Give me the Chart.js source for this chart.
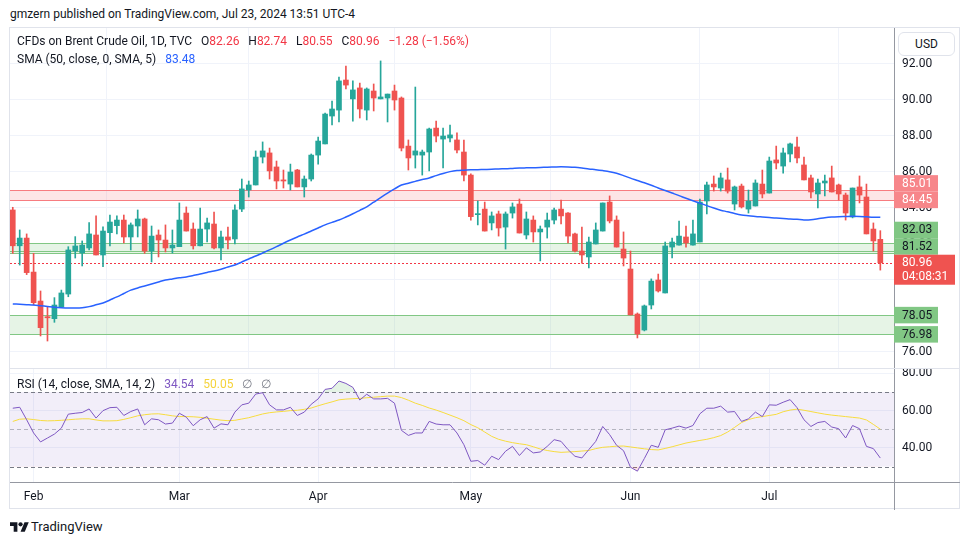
<!DOCTYPE html>
<html>
<head>
<meta charset="utf-8">
<script src="https://cdn.jsdelivr.net/npm/chart.js@4.4.1/dist/chart.umd.min.js"></script>
<style>
  body { margin:0; background:#fff; font-family: Roboto, "Noto Sans", sans-serif; color:#131722; width:970px; height:545px; overflow:hidden; position:relative; }
  .abs { position:absolute; white-space:nowrap; }
  #pub { left:10px; top:7px; font-size:12px; }
  #frame { left:9px; top:27px; width:951px; height:482px; border:1px solid #E0E3EB; box-sizing:border-box; }
  #sep { left:10px; top:368px; width:950px; height:1px; background:#E0E3EB; }
  #mainWrap { left:10px; top:28px; }
  #rsiWrap { left:10px; top:369px; }
  .leg { font-size:12px; color:#131722; }
  #leg1 { left:17px; top:34px; }
  #leg2 { left:17px; top:52px; }
  #leg3 { left:17px; top:377px; }
  .red { color:#F23645; }
  .blue { color:#2962FF; }
  .purple { color:#7E57C2; }
  .yellow { color:#F5D33B; }
  .gray { color:#787B86; }
  #usd { left:898px; top:32px; width:57px; height:24px; border:1px solid #E0E3EB; border-radius:6px; background:#fff; font-size:12px; line-height:22px; text-align:center; box-sizing:border-box; }
  #logo { left:10px; top:520px; }
  #logoText { left:31px; top:519px; font-size:13px; color:#131722; }
</style>
</head>
<body>
<div class="abs" id="pub">gmzern published on TradingView.com, Jul 23, 2024 13:51 UTC-4</div>
<div class="abs" id="frame"></div>
<div class="abs" id="mainWrap"><canvas id="mainChart" width="950" height="340"></canvas></div>
<div class="abs" id="sep"></div>
<div class="abs" id="rsiWrap"><canvas id="rsiChart" width="950" height="141"></canvas></div>
<div class="abs leg" id="leg1">CFDs on Brent Crude Oil, 1D, TVC&nbsp;&nbsp; O<span class="red">82.26</span>&nbsp;&nbsp; H<span class="red">82.74</span>&nbsp;&nbsp; L<span class="red">80.55</span>&nbsp;&nbsp; C<span class="red">80.96</span>&nbsp;&nbsp; <span class="red">−1.28 (−1.56%)</span></div>
<div class="abs leg" id="leg2">SMA (50, close, 0, SMA, 5)&nbsp;&nbsp; <span class="blue">83.48</span></div>
<div class="abs leg" id="leg3">RSI (14, close, SMA, 14, 2)&nbsp;&nbsp; <span class="purple">34.54</span>&nbsp;&nbsp; <span class="yellow">50.05</span>&nbsp;&nbsp; <span class="gray">∅</span>&nbsp;&nbsp; <span class="gray">∅</span></div>
<div class="abs" id="usd">USD</div>
<svg class="abs" id="logo" width="19" height="15" viewBox="0 0 36 28">
  <path d="M14 22H7V11H0V4h14v18z" fill="#131722"/>
  <circle cx="20" cy="8" r="4" fill="#131722"/>
  <path d="M28 22h-8l7.5-18h8L28 22z" fill="#131722"/>
</svg>
<div class="abs" id="logoText">TradingView</div>

<script>
// daily candles, Jan 29 .. Jul 23 2024 (index = trading day)
const opens = [83.89,81.90,82.33,80.44,78.83,77.96,77.85,78.50,79.22,81.61,81.50,81.78,82.50,81.39,82.63,83.02,83.33,82.39,83.00,83.39,
  81.61,82.50,82.22,81.78,81.85,83.72,82.83,81.90,82.83,83.11,81.78,82.39,82.28,83.94,85.00,85.28,86.83,87.06,86.28,85.56,
  85.33,86.11,85.17,85.61,86.94,87.56,89.11,89.44,91.11,90.06,90.67,89.44,90.50,90.06,90.11,90.50,90.11,87.44,86.94,86.94,
  87.11,88.44,87.83,87.89,87.78,87.11,85.83,83.63,83.94,83.17,83.67,82.94,83.72,84.22,82.50,83.33,82.67,82.94,83.33,83.94,
  83.72,82.56,81.61,81.28,82.00,82.72,84.33,83.33,81.72,80.61,78.11,77.22,78.61,80.00,79.28,81.83,81.94,82.39,81.94,82.11,
  84.39,85.33,85.11,85.56,84.22,85.22,83.94,84.11,85.33,84.83,86.67,86.33,87.00,87.39,86.39,85.67,84.78,85.39,85.67,85.28,
  84.72,83.50,85.17,84.61,82.83,82.26];
const highs = [84.04,82.78,82.56,81.48,79.39,78.52,79.02,79.44,81.85,82.41,82.17,83.19,83.56,82.96,83.61,83.56,83.61,83.17,83.89,83.44,
  83.00,82.78,83.06,82.78,84.28,84.06,83.17,84.00,83.44,83.78,82.72,82.94,84.17,85.61,85.50,87.17,87.67,87.33,86.61,86.11,
  86.44,86.15,85.78,87.00,87.94,89.28,89.94,91.28,91.89,91.06,90.94,90.67,90.89,92.17,90.33,90.83,90.17,87.78,90.72,87.22,
  88.44,88.83,88.44,88.61,88.17,87.78,85.90,84.39,84.33,83.78,83.83,83.78,84.28,84.50,83.78,83.56,83.00,83.72,84.00,84.44,
  83.75,82.60,82.94,82.39,83.17,84.28,84.67,83.56,82.67,81.61,78.17,78.61,80.06,80.33,82.11,82.33,83.28,83.00,83.33,84.50,
  85.44,85.78,85.94,86.22,85.22,85.33,85.00,85.56,86.11,86.83,87.44,87.33,87.61,87.94,86.83,85.83,85.61,85.83,86.33,85.33,
  84.83,85.11,85.78,85.33,83.17,82.74];
const lows = [81.48,80.83,80.30,78.61,76.89,76.61,77.65,78.50,79.07,81.22,80.78,81.67,81.39,80.74,81.89,82.56,82.06,81.67,82.39,81.48,
  81.00,81.28,81.56,81.50,81.85,82.72,81.72,81.90,82.11,81.72,81.11,81.72,82.00,83.80,84.61,85.28,86.50,85.61,85.06,85.11,
  85.00,85.17,84.61,85.50,86.44,87.56,88.61,88.78,90.61,88.83,89.00,88.89,89.39,90.06,88.78,89.44,87.17,86.11,86.22,85.83,
  86.06,87.67,86.22,87.67,87.06,85.50,83.33,83.06,82.72,82.78,82.44,81.72,83.44,82.61,82.28,82.11,81.06,82.33,83.11,83.11,
  82.06,81.56,80.94,80.67,82.00,82.72,83.17,81.83,80.78,78.06,76.78,77.17,78.39,79.33,79.28,81.22,81.94,81.83,81.94,82.11,
  83.67,84.94,84.94,84.83,83.89,84.00,83.72,84.11,84.56,84.83,86.17,85.94,86.56,86.50,85.56,84.56,84.00,84.67,84.89,84.44,
  83.33,83.45,84.28,82.56,81.61,80.55];
const closes = [81.90,82.33,80.41,78.74,77.35,77.90,78.61,79.28,81.67,81.89,81.94,82.56,81.39,82.72,83.22,83.33,82.39,83.06,83.39,81.61,
  82.44,82.22,81.78,81.94,83.33,82.72,81.90,82.83,83.17,81.78,82.39,82.22,83.89,85.06,85.28,86.83,87.17,86.06,85.50,85.50,
  86.00,85.17,85.61,86.94,87.72,89.22,89.50,91.06,90.83,90.56,89.50,90.61,90.11,90.17,90.33,90.00,87.33,86.78,87.17,87.11,
  88.39,88.00,88.00,88.06,87.22,85.83,83.52,83.67,82.72,83.56,82.89,83.67,84.06,82.61,83.39,82.67,82.83,83.33,83.89,83.56,
  82.44,81.61,81.39,82.11,82.78,84.28,83.28,81.83,81.22,78.06,77.00,78.56,79.94,79.39,81.89,82.11,82.44,82.06,82.56,84.33,
  85.28,85.17,85.67,84.94,85.17,84.06,84.39,85.39,84.78,86.61,86.50,87.06,87.56,86.78,85.56,84.89,85.39,85.50,84.89,84.78,
  83.72,85.11,84.72,82.56,82.17,80.96];
const sma50 = [78.67,78.65,78.63,78.61,78.57,78.53,78.49,78.46,78.44,78.44,78.46,78.52,78.62,78.72,78.89,79.06,79.25,79.44,79.56,79.67,
  79.78,79.89,80.00,80.06,80.12,80.17,80.25,80.33,80.42,80.50,80.60,80.72,80.83,81.00,81.17,81.33,81.50,81.67,81.85,82.04,
  82.22,82.39,82.55,82.72,82.89,83.06,83.20,83.33,83.50,83.68,83.87,84.06,84.32,84.58,84.83,85.06,85.28,85.38,85.48,85.58,
  85.67,85.80,85.92,86.02,86.08,86.10,86.12,86.13,86.14,86.15,86.17,86.18,86.20,86.22,86.23,86.24,86.25,86.27,86.28,86.29,
  86.28,86.26,86.22,86.17,86.13,86.08,86.02,85.93,85.80,85.66,85.53,85.40,85.26,85.11,84.97,84.83,84.69,84.54,84.40,84.27,
  84.13,84.00,83.88,83.79,83.69,83.61,83.57,83.53,83.50,83.47,83.44,83.42,83.39,83.37,83.34,83.35,83.40,83.46,83.50,83.52,
  83.53,83.54,83.53,83.51,83.49,83.48];
const rsi = [61.3,61.8,55.1,48.0,43.2,45.3,47.4,50.6,58.1,58.6,59.0,60.9,56.0,60.0,61.6,61.8,57.4,59.5,60.9,52.4,
  55.6,55.1,52.8,53.3,58.6,56.5,51.9,55.1,56.8,50.6,52.9,52.4,59.2,63.1,64.0,68.9,69.6,63.1,60.4,60.4,
  61.8,57.4,59.2,63.4,66.3,71.4,72.0,75.9,74.6,72.5,65.7,68.8,66.3,66.3,66.6,64.0,49.4,46.7,48.0,48.0,
  54.2,52.8,52.4,52.4,48.0,41.7,32.8,33.2,30.7,35.5,33.7,38.2,40.8,35.9,40.0,37.3,37.8,40.8,44.4,43.5,
  39.1,35.5,34.6,39.1,43.5,51.5,47.1,41.4,38.5,29.6,27.5,34.3,41.4,40.3,49.7,50.6,51.7,50.6,52.0,58.3,
  61.3,61.3,62.4,59.2,59.5,54.2,55.6,59.2,56.8,63.1,62.9,64.5,65.9,61.6,55.1,51.5,53.6,54.2,51.2,50.3,
  45.3,52.0,50.3,40.8,39.6,34.54];
const rsiMa = [54.2,55.4,55.6,55.2,54.7,54.5,54.6,54.8,55.1,55.4,55.6,55.6,55.0,54.5,54.5,54.6,55.3,56.2,57.2,57.8,
  58.2,58.3,57.8,57.2,56.8,56.8,56.7,56.4,55.9,55.4,54.9,54.6,54.8,55.5,56.2,57.2,58.2,58.9,59.3,59.6,
  60.0,60.2,60.7,61.4,62.6,63.7,64.7,65.8,66.2,66.4,66.6,66.9,67.2,67.5,67.8,67.8,67.0,65.6,64.0,62.8,
  61.4,60.3,59.0,57.6,56.2,54.6,52.5,50.8,48.5,46.2,44.6,43.6,42.8,42.2,41.7,40.6,39.4,38.6,38.0,37.6,
  37.8,38.0,38.3,38.6,39.6,40.3,40.6,40.9,41.0,40.5,40.0,39.5,39.1,38.9,39.7,40.6,41.6,42.6,43.3,44.0,
  44.6,45.5,46.6,48.5,51.0,53.6,55.2,56.2,56.8,57.4,58.0,59.4,60.3,60.8,60.2,59.5,58.8,58.1,57.6,57.2,
  56.8,56.4,56.0,55.0,52.6,50.05];

const monthLabels = ['Feb', 'Mar', 'Apr', 'May', 'Jun', 'Jul'];
const monthIndex = [3, 24, 44, 66, 89, 109];
const priceTicks = [76, 78, 80, 82, 84, 86, 88, 90, 92];
const rsiTicks = [40, 60, 80];
// support / resistance zones: [low, high, kind]
const zones = [[84.45, 85.01, 'red'], [81.52, 82.03, 'green'], [76.98, 78.05, 'green']];
const extraLines = [[81.63, 'green']];
const badges = [[85.01, 'red'], [84.45, 'red'], [82.03, 'green'], [81.52, 'green'], [78.05, 'green'], [76.98, 'green']];
const countdown = '04:08:31';
const rsiLevels = [70, 50, 30];

const UP = '#26A69A', DOWN = '#EF5350';
const AXIS = '#9598A1', GRID = '#F0F3FA';
const zoneStyle = {
    red: { fill: 'rgba(247,124,128,0.2)', line: '#F77C80', badge: '#F7868A', text: '#ffffff' },
    green: { fill: 'rgba(129,199,132,0.2)', line: '#81C784', badge: '#81C784', text: '#131722' }
};
const tickFont = { family: 'Roboto', size: 12 };

const idx = closes.map((c, i) => i);
const candleColors = idx.map(i => closes[i] >= opens[i] ? UP : DOWN);
const xMin = -0.4, xMax = 126.97;

function fixedY(width) {
    return function (scale) {
        scale.width = width;
        scale.paddingTop = 0;
        scale.paddingBottom = 0;
    };
}
function fixedX(height) {
    return function (scale) {
        scale.height = height;
        scale.paddingLeft = 0;
        scale.paddingRight = 0;
    };
}

const zonePlugin = {
    id: 'zones',
    beforeDatasetsDraw(chart) {
        const { ctx, chartArea: a, scales: { y } } = chart;
        ctx.save();
        zones.forEach(z => {
            const st = zoneStyle[z[2]];
            const yHi = Math.round(y.getPixelForValue(z[1])) + 0.5;
            const yLo = Math.round(y.getPixelForValue(z[0])) + 0.5;
            ctx.fillStyle = st.fill;
            ctx.fillRect(a.left, yHi, a.right - a.left, yLo - yHi);
            ctx.strokeStyle = st.line;
            ctx.lineWidth = 1;
            [yHi, yLo].forEach(py => {
                ctx.beginPath(); ctx.moveTo(a.left, py); ctx.lineTo(a.right, py); ctx.stroke();
            });
        });
        extraLines.forEach(l => {
            const py = Math.round(y.getPixelForValue(l[0])) + 0.5;
            ctx.strokeStyle = zoneStyle[l[1]].line;
            ctx.beginPath(); ctx.moveTo(a.left, py); ctx.lineTo(a.right, py); ctx.stroke();
        });
        // last price line
        const lp = Math.round(y.getPixelForValue(closes[closes.length - 1])) + 0.5;
        ctx.strokeStyle = '#F23645';
        ctx.lineWidth = 1;
        ctx.setLineDash([2, 2]);
        ctx.beginPath(); ctx.moveTo(a.left, lp); ctx.lineTo(a.right, lp); ctx.stroke();
        ctx.restore();
    },
    afterDraw(chart) {
        const { ctx, chartArea: a, scales: { y } } = chart;
        const last = closes[closes.length - 1];
        const lastY = y.getPixelForValue(last);
        const H = 16.5;
        const top = lastY - 8, bottom = top + 30;
        const items = badges.map(b => ({ v: b[0], kind: b[1], y: y.getPixelForValue(b[0]) }));
        // push labels apart like the price scale does
        let limit = top;
        items.filter(b => b.v > last).sort((p, q) => p.v - q.v).forEach(b => {
            b.cy = Math.min(b.y, limit - H / 2); limit = b.cy - H / 2;
        });
        limit = bottom;
        items.filter(b => b.v < last).sort((p, q) => q.v - p.v).forEach(b => {
            b.cy = Math.max(b.y, limit + H / 2); limit = b.cy + H / 2;
        });
        ctx.save();
        ctx.font = '12px Roboto';
        ctx.textBaseline = 'middle';
        ctx.textAlign = 'left';
        items.forEach(b => {
            const st = zoneStyle[b.kind];
            ctx.fillStyle = st.badge;
            ctx.fillRect(a.right, b.cy - H / 2, 44, H);
            ctx.fillStyle = st.text;
            ctx.fillText(b.v.toFixed(2), a.right + 8, b.cy + 0.5);
        });
        ctx.fillStyle = '#EF5350';
        ctx.fillRect(a.right, top, 61, 30);
        ctx.fillStyle = '#ffffff';
        ctx.fillText(last.toFixed(2), a.right + 8, lastY + 0.5);
        ctx.fillText(countdown, a.right + 8, lastY + 14.5);
        ctx.restore();
    }
};

new Chart(document.getElementById('mainChart'), {
    type: 'bar',
    data: {
        datasets: [
            {
                type: 'line',
                data: idx.map(i => ({ x: i, y: sma50[i] })),
                borderColor: '#2962FF',
                borderWidth: 1.5,
                pointRadius: 0,
                tension: 0.3,
                order: 0
            },
            {
                data: idx.map(i => ({ x: i, y: [lows[i], highs[i]] })),
                backgroundColor: candleColors,
                barThickness: 1,
                grouped: false,
                order: 2
            },
            {
                data: idx.map(i => ({ x: i, y: [opens[i], closes[i]] })),
                backgroundColor: candleColors,
                barThickness: 5,
                minBarLength: 1,
                grouped: false,
                order: 1
            }
        ]
    },
    options: {
        responsive: false,
        animation: false,
        layout: { padding: 0 },
        plugins: { legend: { display: false }, tooltip: { enabled: false } },
        scales: {
            x: {
                type: 'linear', min: xMin, max: xMax, offset: false,
                afterBuildTicks: s => { s.ticks = monthIndex.map(v => ({ value: v })); },
                ticks: { display: false },
                grid: { color: GRID, drawTicks: false },
                border: { display: false },
                afterFit: fixedX(0)
            },
            y: {
                position: 'right', min: 75.111, max: 94,
                afterBuildTicks: s => { s.ticks = priceTicks.map(v => ({ value: v })); },
                ticks: { font: tickFont, color: '#131722', padding: 8, callback: v => v.toFixed(2) },
                grid: { color: GRID, drawTicks: false },
                border: { display: true, color: AXIS },
                afterFit: fixedY(66)
            }
        }
    },
    plugins: [zonePlugin]
});

const rsiPlugin = {
    id: 'rsiBand',
    beforeDatasetsDraw(chart) {
        const { ctx, chartArea: a, scales: { y } } = chart;
        const yTop = y.getPixelForValue(rsiLevels[0]), yBot = y.getPixelForValue(rsiLevels[2]);
        ctx.save();
        ctx.fillStyle = 'rgba(126,87,194,0.1)';
        ctx.fillRect(a.left, yTop, a.right - a.left, yBot - yTop);
        ctx.setLineDash([4, 3]);
        ctx.lineWidth = 1;
        rsiLevels.forEach((lv, k) => {
            const py = Math.round(y.getPixelForValue(lv)) + 0.5;
            ctx.strokeStyle = k === 1 ? 'rgba(120,123,134,0.5)' : '#787B86';
            ctx.beginPath(); ctx.moveTo(a.left, py); ctx.lineTo(a.right, py); ctx.stroke();
        });
        ctx.restore();
    },
    afterDraw(chart) {
        const { ctx, chartArea: a } = chart;
        ctx.save();
        ctx.strokeStyle = AXIS;
        ctx.lineWidth = 1;
        ctx.beginPath();
        ctx.moveTo(a.right, a.bottom + 0.5); ctx.lineTo(chart.width, a.bottom + 0.5);
        ctx.moveTo(a.right + 0.5, a.bottom); ctx.lineTo(a.right + 0.5, chart.height);
        ctx.stroke();
        ctx.restore();
    }
};

new Chart(document.getElementById('rsiChart'), {
    type: 'line',
    data: {
        datasets: [
            {
                data: idx.map(i => ({ x: i, y: rsi[i] })),
                borderColor: '#7E57C2',
                borderWidth: 1,
                pointRadius: 0,
                fill: { target: { value: 70 }, above: 'rgba(76,175,80,0.15)', below: 'rgba(0,0,0,0)' },
                order: 0
            },
            {
                data: idx.map(i => ({ x: i, y: rsi[i] })),
                borderWidth: 0,
                borderColor: 'rgba(0,0,0,0)',
                pointRadius: 0,
                fill: { target: { value: 30 }, above: 'rgba(0,0,0,0)', below: 'rgba(242,54,69,0.15)' },
                order: 2
            },
            {
                data: idx.map(i => ({ x: i, y: rsiMa[i] })),
                borderColor: '#F7DC3E',
                borderWidth: 1,
                pointRadius: 0,
                order: 1
            }
        ]
    },
    options: {
        responsive: false,
        animation: false,
        layout: { padding: 0 },
        plugins: { legend: { display: false }, tooltip: { enabled: false } },
        scales: {
            x: {
                type: 'linear', min: xMin, max: xMax, offset: false,
                afterBuildTicks: s => { s.ticks = monthIndex.map(v => ({ value: v })); },
                ticks: {
                    font: tickFont, color: '#131722', padding: 8, autoSkip: false, maxRotation: 0,
                    callback: v => monthLabels[monthIndex.indexOf(v)]
                },
                grid: { color: GRID, drawTicks: false },
                border: { display: true, color: AXIS },
                afterFit: fixedX(28)
            },
            y: {
                position: 'right', min: 21.68, max: 82.35,
                afterBuildTicks: s => { s.ticks = rsiTicks.map(v => ({ value: v })); },
                ticks: { font: tickFont, color: '#131722', padding: 8, callback: v => v.toFixed(2) },
                grid: { color: GRID, drawTicks: false },
                border: { display: true, color: AXIS },
                afterFit: fixedY(66)
            }
        }
    },
    plugins: [rsiPlugin]
});
</script>
</body>
</html>
